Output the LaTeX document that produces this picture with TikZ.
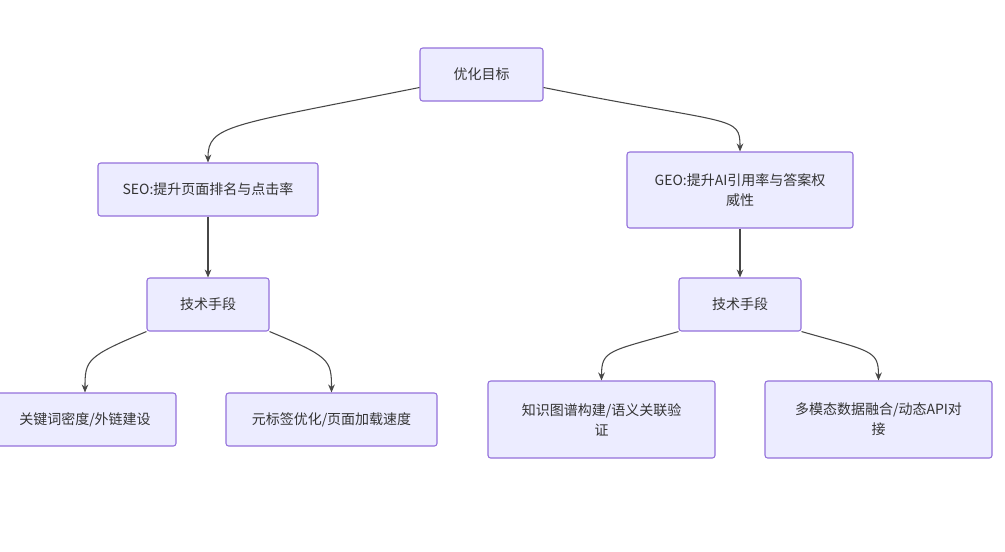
\documentclass[tikz,border=0pt]{standalone}
\usepackage{fontspec}
\setmainfont{Noto Sans CJK SC}
\usetikzlibrary{arrows.meta}
\definecolor{nfill}{HTML}{ECECFF}
\definecolor{nline}{HTML}{9370DB}
\definecolor{txt}{HTML}{333333}
\begin{document}
\begin{tikzpicture}[x=0.75pt,y=-0.75pt,
 box/.style={draw=nline,fill=nfill,rounded corners=2pt,line width=0.8pt,text=txt,font=\fontsize{10.5pt}{15pt}\selectfont,align=center,inner sep=0pt},
 edge/.style={draw=txt!90,line width=0.8pt,-{Stealth[length=6pt,width=5pt]}}]
\useasboundingbox (0,0) rectangle (1005,551);
\node[box,minimum width=123*0.75pt,minimum height=53*0.75pt] (top) at (481.5,74.5) {优化目标};
\node[box,minimum width=220*0.75pt,minimum height=53*0.75pt] (seo) at (208,189.5) {SEO:提升页面排名与点击率};
\node[box,minimum width=226*0.75pt,minimum height=76*0.75pt] (geo) at (740,190) {GEO:提升AI引用率与答案权\\威性};
\node[box,minimum width=122*0.75pt,minimum height=53*0.75pt] (tl) at (208,304.5) {技术手段};
\node[box,minimum width=122*0.75pt,minimum height=53*0.75pt] (tr) at (740,304.5) {技术手段};
\node[box,minimum width=182*0.75pt,minimum height=53*0.75pt] (k) at (85,419.5) {关键词密度/外链建设};
\node[box,minimum width=211*0.75pt,minimum height=53*0.75pt] (m) at (331.5,419.5) {元标签优化/页面加载速度};
\node[box,minimum width=227*0.75pt,minimum height=77*0.75pt] (kg) at (601.5,419.5) {知识图谱构建/语义关联验\\证};
\node[box,minimum width=227*0.75pt,minimum height=77*0.75pt] (mm) at (878.5,419.5) {多模态数据融合/动态API对\\接};
\draw[edge] ([yshift=-13*0.75pt]top.west) .. controls +(-190,38) and (208,125) .. (seo.north);
\draw[edge] ([yshift=-13*0.75pt]top.east) .. controls +(190,38) and (740,115) .. (geo.north);
\draw[edge] (seo) -- (tl);
\draw[edge] (geo) -- (tr);
\draw[edge] (tl.south west) .. controls +(-60,25) and (85,360) .. (k.north);
\draw[edge] (tl.south east) .. controls +(60,25) and (331.5,360) .. (m.north);
\draw[edge] (tr.south west) .. controls +(-70,20) and (601.5,350) .. (kg.north);
\draw[edge] (tr.south east) .. controls +(70,20) and (878.5,350) .. (mm.north);
\end{tikzpicture}
\end{document}
